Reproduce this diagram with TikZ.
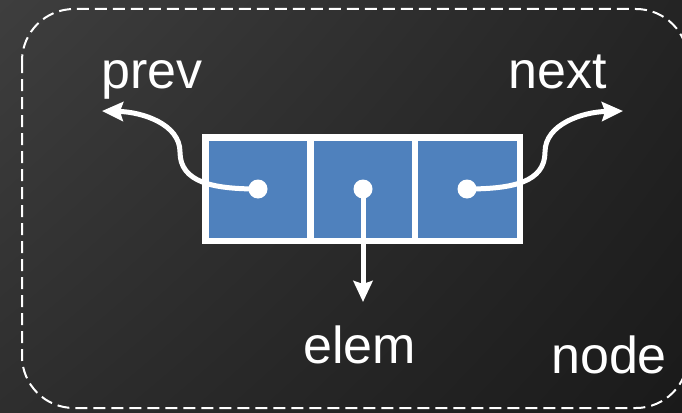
\documentclass[tikz,border=0pt]{standalone}
\usepackage{fontspec}
\setmainfont{Liberation Sans}
\usetikzlibrary{arrows.meta,shadings}

\definecolor{cellblue}{RGB}{79,129,189}
\definecolor{bgtl}{RGB}{62,62,62}
\definecolor{bgtr}{RGB}{36,36,36}
\definecolor{bgbl}{RGB}{46,46,46}
\definecolor{bgbr}{RGB}{26,26,26}

\tikzset{
  cell/.style={draw=white, line width=6.5pt, fill=cellblue,
    minimum width=105pt, minimum height=103.5pt, inner sep=0pt},
  dot/.style={circle, fill=white, minimum size=19pt, inner sep=0pt},
  fieldname/.style={text=white, anchor=base west, inner sep=0pt,
    font=\fontsize{52}{60}\selectfont},
  pointer/.style={draw=white, line width=5pt,
    -{Stealth[length=21pt, width=19pt, inset=3pt]}},
  outline/.style={draw=white, line width=2pt, dash pattern=on 12pt off 6pt,
    rounded corners=52pt}
}

\begin{document}
\begin{tikzpicture}[x=1pt, y=-1pt]
  % canvas
  \useasboundingbox (0,0) rectangle (682,412);
  \clip (0,0) rectangle (682,412);
  \shade[upper left=bgtl, upper right=bgtr, lower left=bgbl, lower right=bgbr]
    (0,0) rectangle (682,412);

  % dashed outline of the list node
  \draw[outline] (22,9) rectangle (688,408);

  % the three fields
  \node[cell] (cprev) at (258,189.3) {};
  \node[cell] (celem) at (363,189.3) {};
  \node[cell] (cnext) at (467.5,189.3) {};

  \node[dot] (dprev) at (258,189) {};
  \node[dot] (delem) at (363,189) {};
  \node[dot] (dnext) at (467,189) {};

  % arrow ends
  \coordinate (tprev) at (102,111);
  \coordinate (tnext) at (623,111);
  \coordinate (telem) at (363,302);

  % pointers
  \draw[pointer] (dprev.center) .. controls (212,189) and (180,182) .. (180,152)
    .. controls (180,124) and (142,112) .. (tprev);
  \draw[pointer] (dnext.center) .. controls (513,189) and (545,182) .. (545,152)
    .. controls (545,124) and (583,112) .. (tnext);
  \draw[pointer] (delem.center) -- (telem);

  % labels
  \node[fieldname] (lprev) at (101,88) {prev};
  \node[fieldname] (lnext) at (508,88) {next};
  \node[fieldname] (lelem) at (303,363) {elem};
  \node[fieldname] (lnode) at (551,373) {node};
\end{tikzpicture}
\end{document}
